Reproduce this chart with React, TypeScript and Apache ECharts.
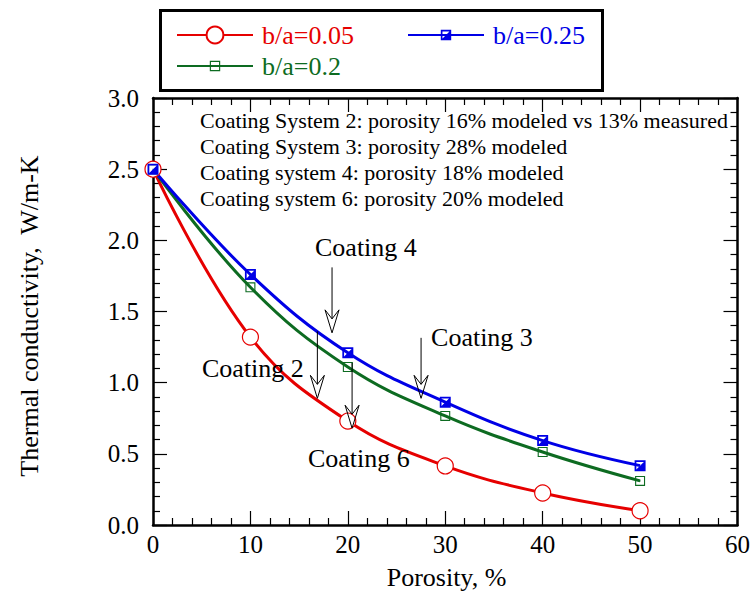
import React, { useEffect, useRef } from 'react';
import * as echarts from 'echarts';

const porosity = [0, 10, 20, 30, 40, 50];
const ba005 = [2.5, 1.32, 0.73, 0.415, 0.225, 0.1];
const ba02 = [2.5, 1.67, 1.11, 0.766, 0.513, 0.31];
const ba025 = [2.5, 1.76, 1.21, 0.863, 0.593, 0.417];
const seriesNames = ['b/a=0.05', 'b/a=0.2', 'b/a=0.25'];

const xTitle = 'Porosity, %';
const yTitle = 'Thermal conductivity,  W/m-K';

const notes = [
  'Coating System 2: porosity 16% modeled vs 13% measured',
  'Coating System 3: porosity 28% modeled',
  'Coating system 4: porosity 18% modeled',
  'Coating system 6: porosity 20% modeled',
];
const notesX = 4.8;
const notesY = [2.841, 2.658, 2.475, 2.293];

const coatingLabels = [
  { text: 'Coating 4', x: 16.56, y: 1.948 },
  { text: 'Coating 3', x: 28.42, y: 1.315 },
  { text: 'Coating 2', x: 5.01, y: 1.097 },
  { text: 'Coating 6', x: 15.84, y: 0.464 },
];
const arrows = [
  { x: 18.3, y0: 1.81, y1: 1.35 },
  { x: 16.8, y0: 1.36, y1: 0.89 },
  { x: 20.35, y0: 1.14, y1: 0.68 },
  { x: 27.4, y0: 1.315, y1: 0.89 },
];

const RED = '#e60000';
const GREEN = '#0d6b21';
const BLUE = '#0000e6';
const FONT = 'Liberation Serif';

const W = 753;
const H = 592;
const GRID = { left: 153, right: 13, top: 98, bottom: 67 };
const X_MIN = 0, X_MAX = 60, Y_MIN = 0, Y_MAX = 3;

const blueSym =
  'path://M0 0H10V10H0Z M1.6 1.6V8.4H8.4V1.6Z M10 0L10 10L0 10Z';
const greenSym =
  'path://M0 0H10V10H0Z M1.1 1.1V8.9H8.9V1.1Z M4.5 4.5H5.5V5.5H4.5Z';

export default function App() {
  const ref = useRef<HTMLDivElement>(null);
  useEffect(() => {
    if (!ref.current) return;
    const chart = echarts.init(ref.current, undefined, { renderer: 'svg' });
    const axisLine = { onZero: false, lineStyle: { color: '#000', width: 2.5 } };
    const axisTick = { inside: true, length: 14, lineStyle: { color: '#000', width: 1.2 } };
    const minorTick = { show: true, splitNumber: 5, length: 7, lineStyle: { color: '#000', width: 1.2 } };
    const legendBase = (name: string, left: number, top: number, h: number) => ({
      data: [name],
      left,
      top,
      padding: 0,
      itemWidth: 76,
      itemHeight: h,
      selectedMode: false,
      formatter: () => '',
      textStyle: { fontSize: 1, fontFamily: FONT },
    });

    const pw = W - GRID.left - GRID.right;
    const ph = H - GRID.top - GRID.bottom;
    const px = (x: number, y: number) => [
      GRID.left + ((x - X_MIN) / (X_MAX - X_MIN)) * pw,
      GRID.top + (1 - (y - Y_MIN) / (Y_MAX - Y_MIN)) * ph,
    ];
    const txt = (text: string, x: number, y: number, size: number, fill: string, align = 'left', rotation = 0) => ({
      type: 'text', z: 100, x, y, rotation,
      style: { text, fontSize: size, fontFamily: FONT, fill, align, verticalAlign: 'middle' },
    });
    const graphics: any[] = [
      {
        type: 'rect', z: 100,
        shape: { x: 160.5, y: 10.5, width: 442, height: 80 },
        style: { fill: 'none', stroke: '#000', lineWidth: 3 },
      },
      txt(seriesNames[0], 262, 35, 26, RED),
      txt(seriesNames[2], 493, 35, 26, BLUE),
      txt(seriesNames[1], 262, 66, 26, GREEN),
      txt(xTitle, GRID.left + pw / 2, 577, 26, '#000', 'center'),
      txt(yTitle, 29, 316, 26, '#000', 'center', Math.PI / 2),
    ];
    notes.forEach((t, i) => {
      const p = px(notesX, notesY[i]);
      graphics.push(txt(t, p[0], p[1], 22, '#000'));
    });
    coatingLabels.forEach((l) => {
      const p = px(l.x, l.y);
      graphics.push(txt(l.text, p[0], p[1], 26, '#000'));
    });
    arrows.forEach((a) => {
      const s = px(a.x, a.y0);
      const e = px(a.x, a.y1);
      const x = s[0];
      const tip = e[1];
      graphics.push({
        type: 'line', z: 100,
        shape: { x1: x, y1: s[1], x2: x, y2: tip - 14 },
        style: { stroke: '#000', lineWidth: 1 },
      });
      graphics.push({
        type: 'polygon', z: 100,
        shape: { points: [[x, tip], [x - 7, tip - 23], [x, tip - 14], [x + 7, tip - 23]] },
        style: { fill: 'none', stroke: '#000', lineWidth: 1 },
      });
    });

    chart.setOption({
      animation: false,
      grid: GRID,
      legend: [
        legendBase(seriesNames[0], 176, 24.5, 21),
        legendBase(seriesNames[2], 407, 28.5, 13),
        legendBase(seriesNames[1], 176, 59.5, 13),
      ],
      xAxis: [
        {
          type: 'value', min: X_MIN, max: X_MAX, interval: 10, position: 'bottom',
          axisLine, axisTick, minorTick,
          axisLabel: { fontSize: 25, color: '#000', fontFamily: FONT, margin: 7 },
          splitLine: { show: false },
        },
        {
          type: 'value', min: X_MIN, max: X_MAX, interval: 10, position: 'top',
          axisLine, axisTick, minorTick, axisLabel: { show: false }, splitLine: { show: false },
        },
      ],
      yAxis: [
        {
          type: 'value', min: Y_MIN, max: Y_MAX, interval: 0.5, position: 'left',
          axisLine, axisTick, minorTick,
          axisLabel: { fontSize: 25, color: '#000', fontFamily: FONT, margin: 14, formatter: (v: number) => v.toFixed(1) },
          splitLine: { show: false },
        },
        {
          type: 'value', min: Y_MIN, max: Y_MAX, interval: 0.5, position: 'right',
          axisLine, axisTick, minorTick, axisLabel: { show: false }, splitLine: { show: false },
        },
      ],
      graphic: graphics,
      series: [
        {
          name: seriesNames[0], type: 'line', smooth: 0.4,
          data: porosity.map((x, i) => [x, ba005[i]]),
          symbol: 'circle', symbolSize: 16,
          lineStyle: { color: RED, width: 3 },
          itemStyle: { color: '#fff', borderColor: RED, borderWidth: 1.2 },
        },
        {
          name: seriesNames[1], type: 'line', smooth: 0.4,
          data: porosity.map((x, i) => [x, ba02[i]]),
          symbol: greenSym, symbolSize: 10,
          lineStyle: { color: GREEN, width: 3 },
          itemStyle: { color: GREEN, borderWidth: 0 },
        },
        {
          name: seriesNames[2], type: 'line', smooth: 0.4,
          data: porosity.map((x, i) => [x, ba025[i]]),
          symbol: blueSym, symbolSize: 11,
          lineStyle: { color: BLUE, width: 3 },
          itemStyle: { color: BLUE, borderWidth: 0 },
        },
      ],
    });

    return () => chart.dispose();
  }, []);
  return (
    <div
      ref={ref}
      style={{ position: 'fixed', left: 0, top: 0, width: W, height: H, background: '#fff' }}
    />
  );
}
